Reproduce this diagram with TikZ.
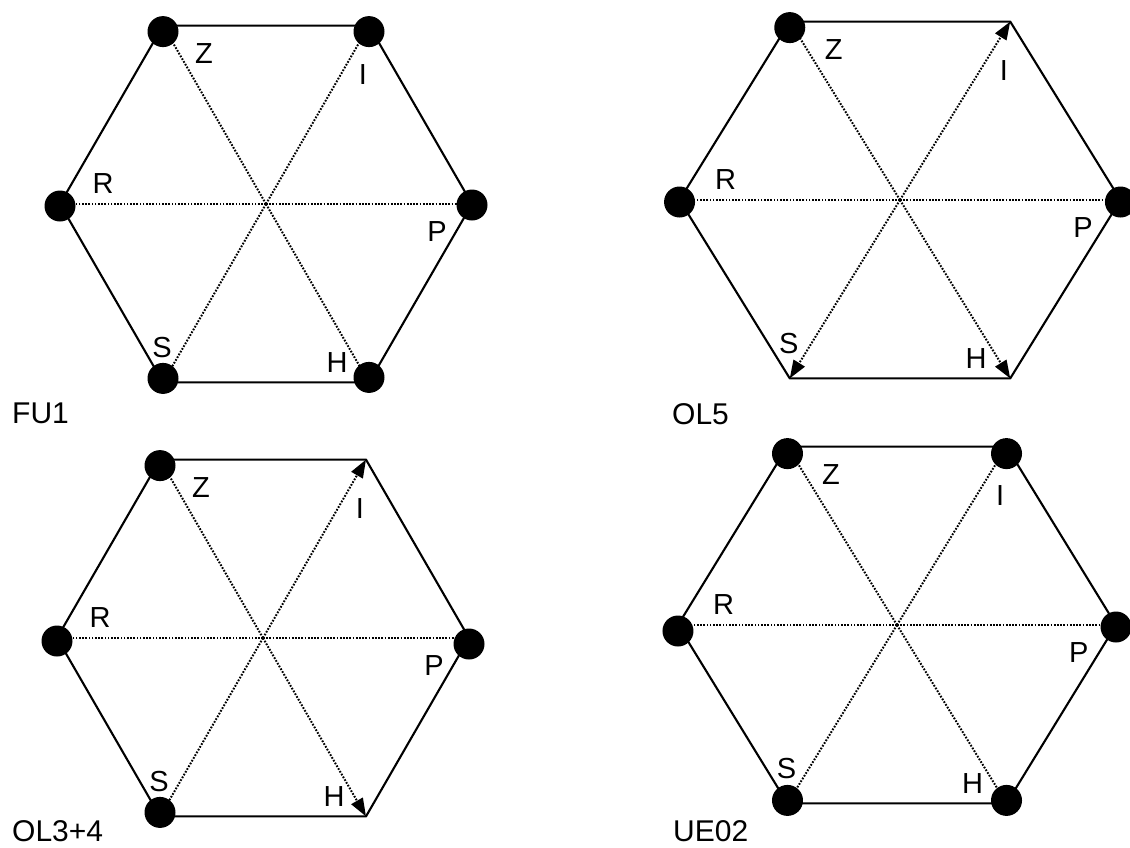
\documentclass[tikz,border=0pt]{standalone}
\usepackage{fontspec}
\setmainfont{Liberation Sans}
\usetikzlibrary{arrows.meta}

\tikzset{
  edge/.style={line width=2.1pt, line join=round},
  diag/.style={line width=2pt, dash pattern=on 1.7pt off 1.5pt},
  ray/.style={diag, -{Triangle[length=18pt,width=13pt]}},
  vdot/.style={circle, fill=black, minimum size=31pt, inner sep=0pt},
  lbl/.style={font=\fontsize{29}{34}\selectfont, inner sep=0pt},
  ttl/.style={font=\fontsize{30}{36}\selectfont, inner sep=0pt, anchor=west}
}

\begin{document}
\begin{tikzpicture}[x=1pt,y=-1pt]
\useasboundingbox (0,0) rectangle (1130,847);

% FU1
\begin{scope}[shift={(266,204)}]
\coordinate (O) at (0,0);
\foreach \p/\a in {P/0,H/60,S/120,R/180,Z/240,I/300}{\coordinate (\p) at (\a:206);}
\draw[edge] (Z)--(I)--(P)--(H)--(S)--(R)--cycle;
\foreach \p in {Z,I,P,H,S,R}{\draw[diag] (O)--(\p);}
\foreach \p/\dy in {Z/6,I/6,P/1,H/-5,S/-4,R/2}{\node[vdot] (d\p) at ([shift={(0,\dy)}]\p) {};}
\foreach \p/\dx/\dy in {Z/41/28,I/-6/49,R/43/-20,P/-35/28,S/-1/-35,H/-32/-20}{\node[lbl] (l\p) at ([shift={(\dx,\dy)}]\p) {\p};}
\end{scope}
\node[ttl] (fu) at (12,413) {FU1};

% OL5
\begin{scope}[shift={(900,200)}, xscale=1.07]
\coordinate (O) at (0,0);
\foreach \p/\a in {P/0,H/60,S/120,R/180,Z/240,I/300}{\coordinate (\p) at (\a:206);}
\draw[edge] (Z)--(I)--(P)--(H)--(S)--(R)--cycle;
\foreach \p in {Z,P,R}{\draw[diag] (O)--(\p);}
\foreach \p in {I,S,H}{\draw[ray] (O)--(\p);}
\foreach \p/\dy in {Z/6,P/2,R/2}{\node[vdot] (d\p) at ([shift={(0,\dy)}]\p) {};}
\foreach \p/\dx/\dy in {Z/41/28,I/-6/49,R/43/-20,P/-35/28,S/-1/-35,H/-32/-20}{\node[lbl] (l\p) at ([shift={(\dx,\dy)}]\p) {\p};}
\end{scope}
\node[ttl] (ol) at (672,414) {OL5};

% OL3+4
\begin{scope}[shift={(263,638)}]
\coordinate (O) at (0,0);
\foreach \p/\a in {P/0,H/60,S/120,R/180,Z/240,I/300}{\coordinate (\p) at (\a:206);}
\draw[edge] (Z)--(I)--(P)--(H)--(S)--(R)--cycle;
\foreach \p in {Z,P,S,R}{\draw[diag] (O)--(\p);}
\foreach \p in {I,H}{\draw[ray] (O)--(\p);}
\foreach \p/\dy in {Z/6,P/6,S/-4,R/3}{\node[vdot] (d\p) at ([shift={(0,\dy)}]\p) {};}
\foreach \p/\dx/\dy in {Z/41/28,I/-6/49,R/43/-20,P/-35/28,S/-1/-35,H/-32/-20}{\node[lbl] (l\p) at ([shift={(\dx,\dy)}]\p) {\p};}
\end{scope}
\node[ttl] (olb) at (12,831) {OL3+4};

% UE02
\begin{scope}[shift={(897,625)}, xscale=1.063]
\coordinate (O) at (0,0);
\foreach \p/\a in {P/0,H/60,S/120,R/180,Z/240,I/300}{\coordinate (\p) at (\a:206);}
\draw[edge] (Z)--(I)--(P)--(H)--(S)--(R)--cycle;
\foreach \p in {Z,I,P,H,S,R}{\draw[diag] (O)--(\p);}
\foreach \p/\dy in {Z/7,I/7,P/2,H/-3,S/-3,R/6}{\node[vdot] (d\p) at ([shift={(0,\dy)}]\p) {};}
\foreach \p/\dx/\dy in {Z/41/28,I/-6/49,R/43/-20,P/-35/28,S/-1/-35,H/-32/-20}{\node[lbl] (l\p) at ([shift={(\dx,\dy)}]\p) {\p};}
\end{scope}
\node[ttl] (ue) at (673,831) {UE02};
\end{tikzpicture}
\end{document}
